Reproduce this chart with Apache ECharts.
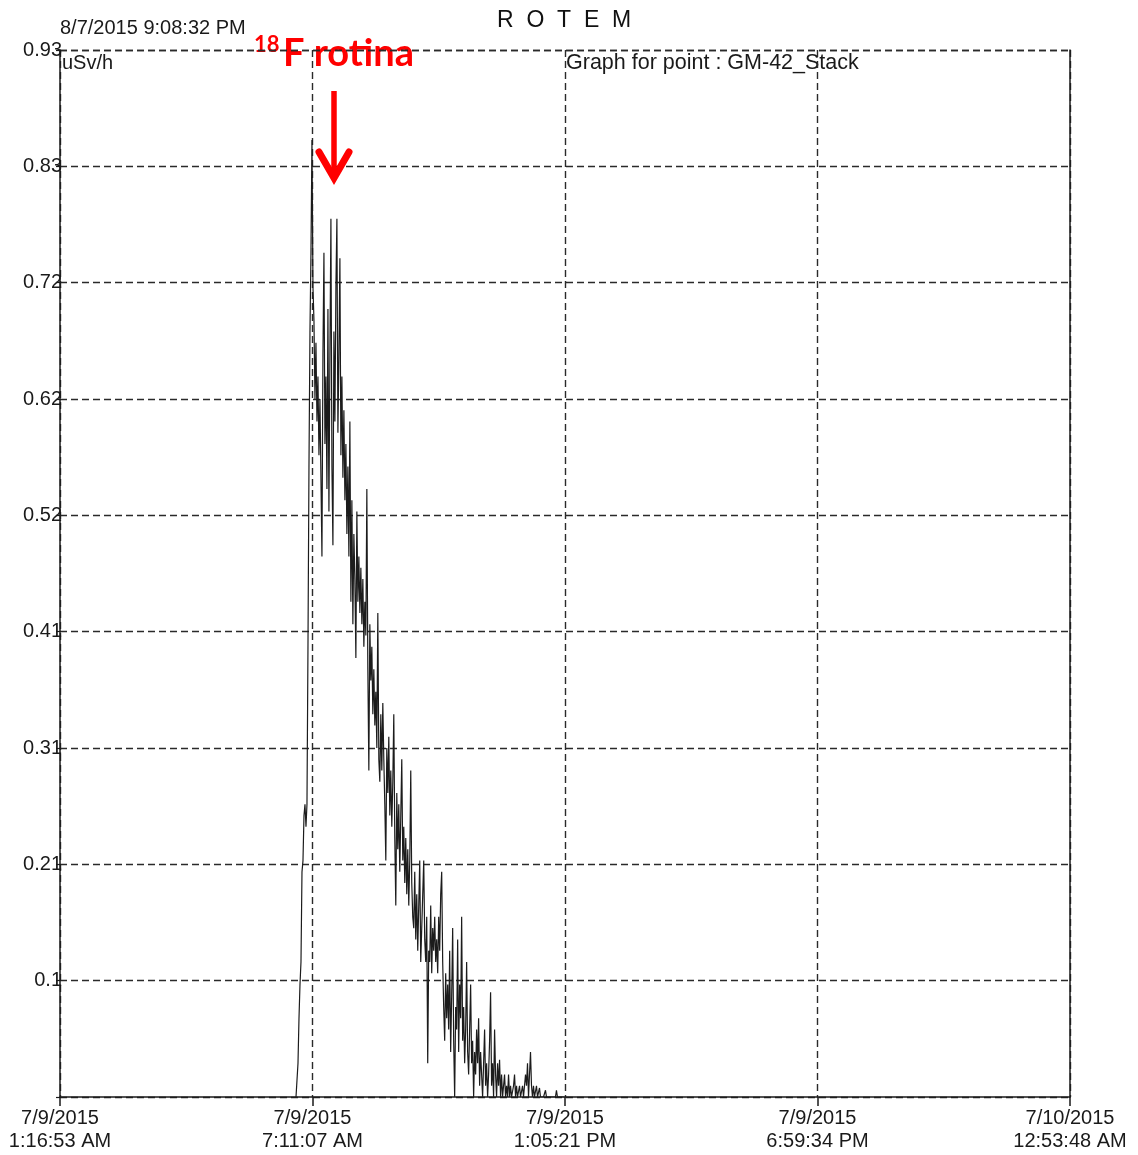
<!DOCTYPE html>
<html>
<head>
<meta charset="utf-8">
<script src="https://cdn.jsdelivr.net/npm/echarts@6/dist/echarts.min.js"></script>
<style>
  html, body { margin: 0; padding: 0; background: #fff; }
  #chart { width: 1138px; height: 1155px; }
</style>
</head>
<body>
<div id="chart"></div>
<script>
// Time axis: seconds after 7/9/2015 1:16:53 AM, ticks every 5:54:14.25
const X_STEP_SEC = 21254.25;
const X_TICK_COUNT = 4;
const xTickLabels = [
  '7/9/2015\n1:16:53 AM',
  '7/9/2015\n7:11:07 AM',
  '7/9/2015\n1:05:21 PM',
  '7/9/2015\n6:59:34 PM',
  '7/10/2015\n12:53:48 AM'
];

// Dose-rate axis (uSv/h)
const Y_MAX = 0.93;
const Y_STEP = Y_MAX / 9;
const yTickLabels = ['', '0.1', '0.21', '0.31', '0.41', '0.52', '0.62', '0.72', '0.83', '0.93'];

// GM-42_Stack readings, one sample every 84 s starting 6:48 AM
const SAMPLE_START_SEC = 19865;
const SAMPLE_STEP_SEC = 84;
const doseRate = [
  0, 0, 0.03, 0.07, 0.10, 0.12, 0.20, 0.21, 0.25, 0.26,
  0.24, 0.26, 0.40, 0.56, 0.68, 0.75, 0.85, 0.72, 0.69, 0.62,
  0.67, 0.60, 0.64, 0.57, 0.62, 0.55, 0.48, 0.66, 0.75, 0.58,
  0.64, 0.54, 0.70, 0.52, 0.66, 0.78, 0.56, 0.49, 0.68, 0.60,
  0.72, 0.78, 0.59, 0.66, 0.745, 0.57, 0.64, 0.55, 0.61, 0.53,
  0.58, 0.50, 0.56, 0.48, 0.60, 0.44, 0.53, 0.42, 0.50, 0.46,
  0.39, 0.52, 0.44, 0.48, 0.43, 0.47, 0.42, 0.46, 0.40, 0.44,
  0.41, 0.54, 0.38, 0.29, 0.42, 0.37, 0.40, 0.34, 0.38, 0.33,
  0.36, 0.31, 0.43, 0.30, 0.28, 0.34, 0.29, 0.35, 0.30, 0.26,
  0.21, 0.31, 0.27, 0.32, 0.25, 0.29, 0.24, 0.28, 0.34, 0.23,
  0.17, 0.27, 0.22, 0.26, 0.20, 0.25, 0.30, 0.21, 0.24, 0.19,
  0.23, 0.18, 0.22, 0.17, 0.21, 0.29, 0.19, 0.16, 0.15, 0.20,
  0.14, 0.18, 0.13, 0.17, 0.21, 0.12, 0.15, 0.18, 0.21, 0.14,
  0.12, 0.16, 0.03, 0.13, 0.12, 0.17, 0.11, 0.15, 0.13, 0.16,
  0.12, 0.14, 0.11, 0.16, 0.13, 0.18, 0.20, 0.12, 0.08, 0.05,
  0.11, 0.07, 0.10, 0.06, 0.13, 0.04, 0.09, 0.15, 0.05, 0.00,
  0.08, 0.06, 0.14, 0.04, 0.10, 0.07, 0.16, 0.05, 0.08, 0.03,
  0.06, 0.12, 0.04, 0.02, 0.06, 0.10, 0.03, 0.05, 0.00, 0.04,
  0.02, 0.06, 0.03, 0.07, 0.01, 0.04, 0.02, 0.00, 0.03, 0.06,
  0.01, 0.03, 0.00, 0.02, 0.05, 0.093, 0.01, 0.03, 0.00, 0.06,
  0.02, 0.00, 0.03, 0.01, 0.033, 0.00, 0.02, 0.00, 0.01, 0.02,
  0.00, 0.01, 0.00, 0.02, 0.00, 0.01, 0.00, 0.00, 0.01, 0.02,
  0.00, 0.01, 0.00, 0.00, 0.01, 0.00, 0.00, 0.01, 0.00, 0.00,
  0.02, 0.01, 0.03, 0.00, 0.02, 0.04, 0.01, 0.00, 0.01, 0.00,
  0.00, 0.01, 0.00, 0.00, 0.008, 0, 0, 0, 0, 0,
  0.006, 0, 0, 0, 0, 0, 0, 0, 0, 0,
  0, 0.006, 0, 0, 0, 0, 0, 0, 0, 0
];

const seriesData = doseRate.map((v, i) => [SAMPLE_START_SEC + i * SAMPLE_STEP_SEC, v]);

const FONT = '"Liberation Sans", Arial, sans-serif';
const RED_FONT = 'Lato, "Noto Sans", sans-serif';
const INK = '#1a1a1a';
const GRID_DASH = { color: '#2a2a2a', width: 1.4, type: [7, 4] };

const chart = echarts.init(document.getElementById('chart'), null, { renderer: 'canvas' });

chart.setOption({
  animation: false,
  backgroundColor: '#ffffff',
  grid: { left: 60, right: 68, top: 50, bottom: 58, containLabel: false },
  xAxis: {
    type: 'value',
    min: 0,
    max: X_STEP_SEC * X_TICK_COUNT,
    interval: X_STEP_SEC,
    axisLine: { show: true, lineStyle: { color: INK, width: 1.5 } },
    axisTick: { show: true, length: 9, lineStyle: { color: INK, width: 1.5 } },
    axisLabel: {
      color: INK,
      fontFamily: FONT,
      fontSize: 20,
      lineHeight: 23,
      margin: 10,
      formatter: v => xTickLabels[Math.round(v / X_STEP_SEC)] || ''
    },
    splitLine: { show: true, lineStyle: GRID_DASH }
  },
  yAxis: [
    {
      type: 'value',
      min: 0,
      max: Y_MAX,
      interval: Y_STEP,
      axisLine: { show: true, lineStyle: { color: INK, width: 1.5 } },
      axisTick: { show: true, length: 4, lineStyle: { color: INK, width: 1.2 } },
      axisLabel: {
        color: INK,
        fontFamily: FONT,
        fontSize: 20,
        margin: -2,
        formatter: v => yTickLabels[Math.round(v / Y_STEP)] || ''
      },
      splitLine: { show: true, lineStyle: GRID_DASH }
    },
    {
      type: 'value',
      position: 'right',
      min: 0,
      max: Y_MAX,
      interval: Y_STEP,
      axisLine: { show: true, lineStyle: { color: INK, width: 1.5 } },
      axisTick: { show: false },
      axisLabel: { show: false },
      splitLine: { show: false }
    }
  ],
  series: [
    {
      name: 'GM-42_Stack',
      type: 'line',
      yAxisIndex: 0,
      data: seriesData,
      showSymbol: false,
      sampling: null,
      lineStyle: { color: '#1c1c1c', width: 1.2 },
      z: 5
    }
  ],
  graphic: [
    {
      type: 'text', left: 497, top: 9,
      style: { text: 'R  O  T  E  M', font: '23px ' + FONT, fill: '#111' }
    },
    {
      type: 'text', left: 60, top: 18,
      style: { text: '8/7/2015 9:08:32 PM', font: '20px ' + FONT, fill: INK }
    },
    {
      type: 'text', left: 62, top: 53,
      style: { text: 'uSv/h', font: '20px ' + FONT, fill: INK }
    },
    {
      type: 'text', left: 566, top: 52,
      style: { text: 'Graph for point : GM-42_Stack', font: '21.5px ' + FONT, fill: INK }
    },
    {
      type: 'text', left: 254, top: 34,
      style: { text: '18', font: 'bold 22px ' + RED_FONT, fill: '#ff0000' }
    },
    {
      type: 'text', left: 283, top: 35,
      style: { text: 'F rotina', font: 'bold 38px ' + RED_FONT, fill: '#ff0000' }
    },
    {
      type: 'line', z: 10,
      shape: { x1: 334, y1: 91, x2: 334, y2: 176 },
      style: { stroke: '#ff0000', lineWidth: 5.5 }
    },
    {
      type: 'polyline', z: 10,
      shape: { points: [[319, 152], [334, 178], [349, 152]] },
      style: { stroke: '#ff0000', lineWidth: 7, lineCap: 'round', lineJoin: 'miter', fill: null }
    }
  ]
});
</script>
</body>
</html>
